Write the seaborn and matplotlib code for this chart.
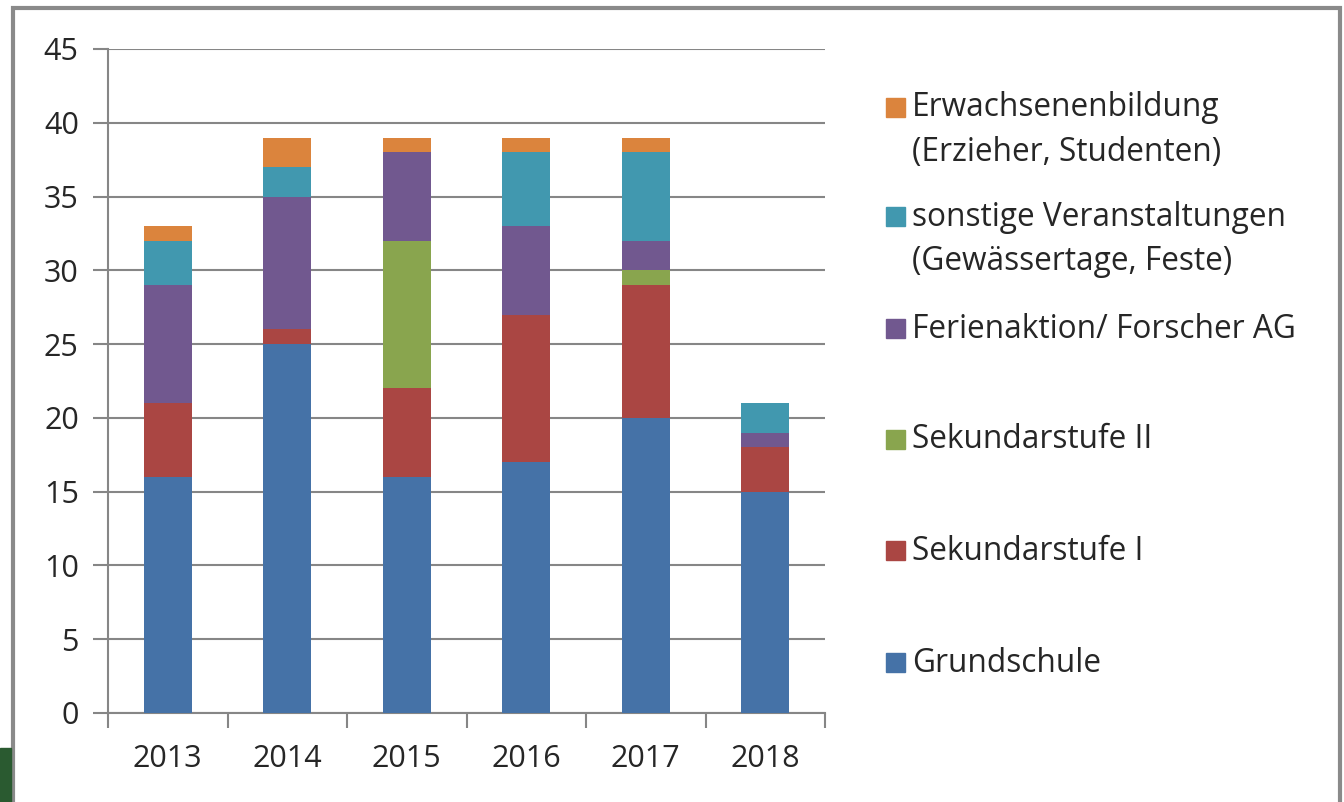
import matplotlib
matplotlib.use('Agg')
import matplotlib.pyplot as plt
import seaborn as sns
import numpy as np
from matplotlib.patches import Rectangle

years = ['2013', '2014', '2015', '2016', '2017', '2018']
grundschule = [16, 25, 16, 17, 20, 15]
sek1 = [5, 1, 6, 10, 9, 3]
sek2 = [0, 0, 10, 0, 1, 0]
ferien = [8, 9, 6, 6, 2, 1]
sonstige = [3, 2, 0, 5, 6, 2]
erwachsene = [1, 2, 1, 1, 1, 0]

series = [
    ('Grundschule', grundschule, '#4572A7'),
    ('Sekundarstufe I', sek1, '#AA4643'),
    ('Sekundarstufe II', sek2, '#89A54E'),
    ('Ferienaktion/ Forscher AG', ferien, '#71588F'),
    ('sonstige Veranstaltungen\n(Gewässertage, Feste)', sonstige, '#4198AF'),
    ('Erwachsenenbildung\n(Erzieher, Studenten)', erwachsene, '#DB843D'),
]

sns.set_style('white')
plt.rcParams['font.family'] = ['Open Sans', 'DejaVu Sans']

fig = plt.figure(figsize=(13.44, 8.02), dpi=100)
ax = fig.add_axes([108/1344, 1-713/802, (825-108)/1344, (713-49)/802])

bottom = np.zeros(len(years))
for name, vals, col in series:
    sns.barplot(x=years, y=vals, bottom=bottom, color=col, width=0.4,
                saturation=1, ax=ax, linewidth=0, zorder=3)
    bottom = bottom + np.array(vals)

ax.set_ylim(0, 45)
ax.set_xlim(-0.5, 5.5)
ax.set_yticks(range(0, 46, 5))
ax.yaxis.grid(True, color='#868686', linewidth=1.5, zorder=0)
for s in ['top', 'right']:
    ax.spines[s].set_visible(False)
for s in ['left', 'bottom']:
    ax.spines[s].set_color('#868686')
    ax.spines[s].set_linewidth(1.5)
ax.tick_params(axis='y', left=True, length=11, width=1.5, color='#868686',
               labelsize=22, pad=10)
ax.tick_params(axis='x', which='major', bottom=False, length=0, labelsize=22, pad=22)
ax.set_xticks(np.arange(-0.5, 6, 1), minor=True)
ax.tick_params(axis='x', which='minor', bottom=True, length=11, width=1.5, color='#868686')
ax.set_xlabel('')
ax.set_ylabel('')

# legend (manual, Excel style, top entry first)
legend_rows = [
    ('Erwachsenenbildung', '(Erzieher, Studenten)', '#DB843D', 108),
    ('sonstige Veranstaltungen', '(Gewässertage, Feste)', '#4198AF', 217),
    ('Ferienaktion/ Forscher AG', None, '#71588F', 329),
    ('Sekundarstufe II', None, '#89A54E', 440),
    ('Sekundarstufe I', None, '#AA4643', 551),
    ('Grundschule', None, '#4572A7', 663),
]
for l1, l2, col, ypx in legend_rows:
    fig.patches.append(Rectangle((886/1344, 1-(ypx+9)/802), 19/1344, 19/802,
                                 transform=fig.transFigure, color=col))
    fig.text(912/1344, 1-ypx/802, l1, fontsize=22.8, va='center', ha='left')
    if l2:
        fig.text(912/1344, 1-(ypx+45)/802, l2, fontsize=22.8, va='center', ha='left')

# frame and corner decoration
fig.patches.append(Rectangle((13/1344, -0.05), (1340-13)/1344, 1.05-8/802,
                             transform=fig.transFigure, fill=False,
                             edgecolor='#8a8a8a', linewidth=3))
fig.patches.append(Rectangle((0, 0), 11/1344, (802-748)/802,
                             transform=fig.transFigure, color='#2a5a30'))

plt.savefig('out.png', dpi=100)
plt.close()
